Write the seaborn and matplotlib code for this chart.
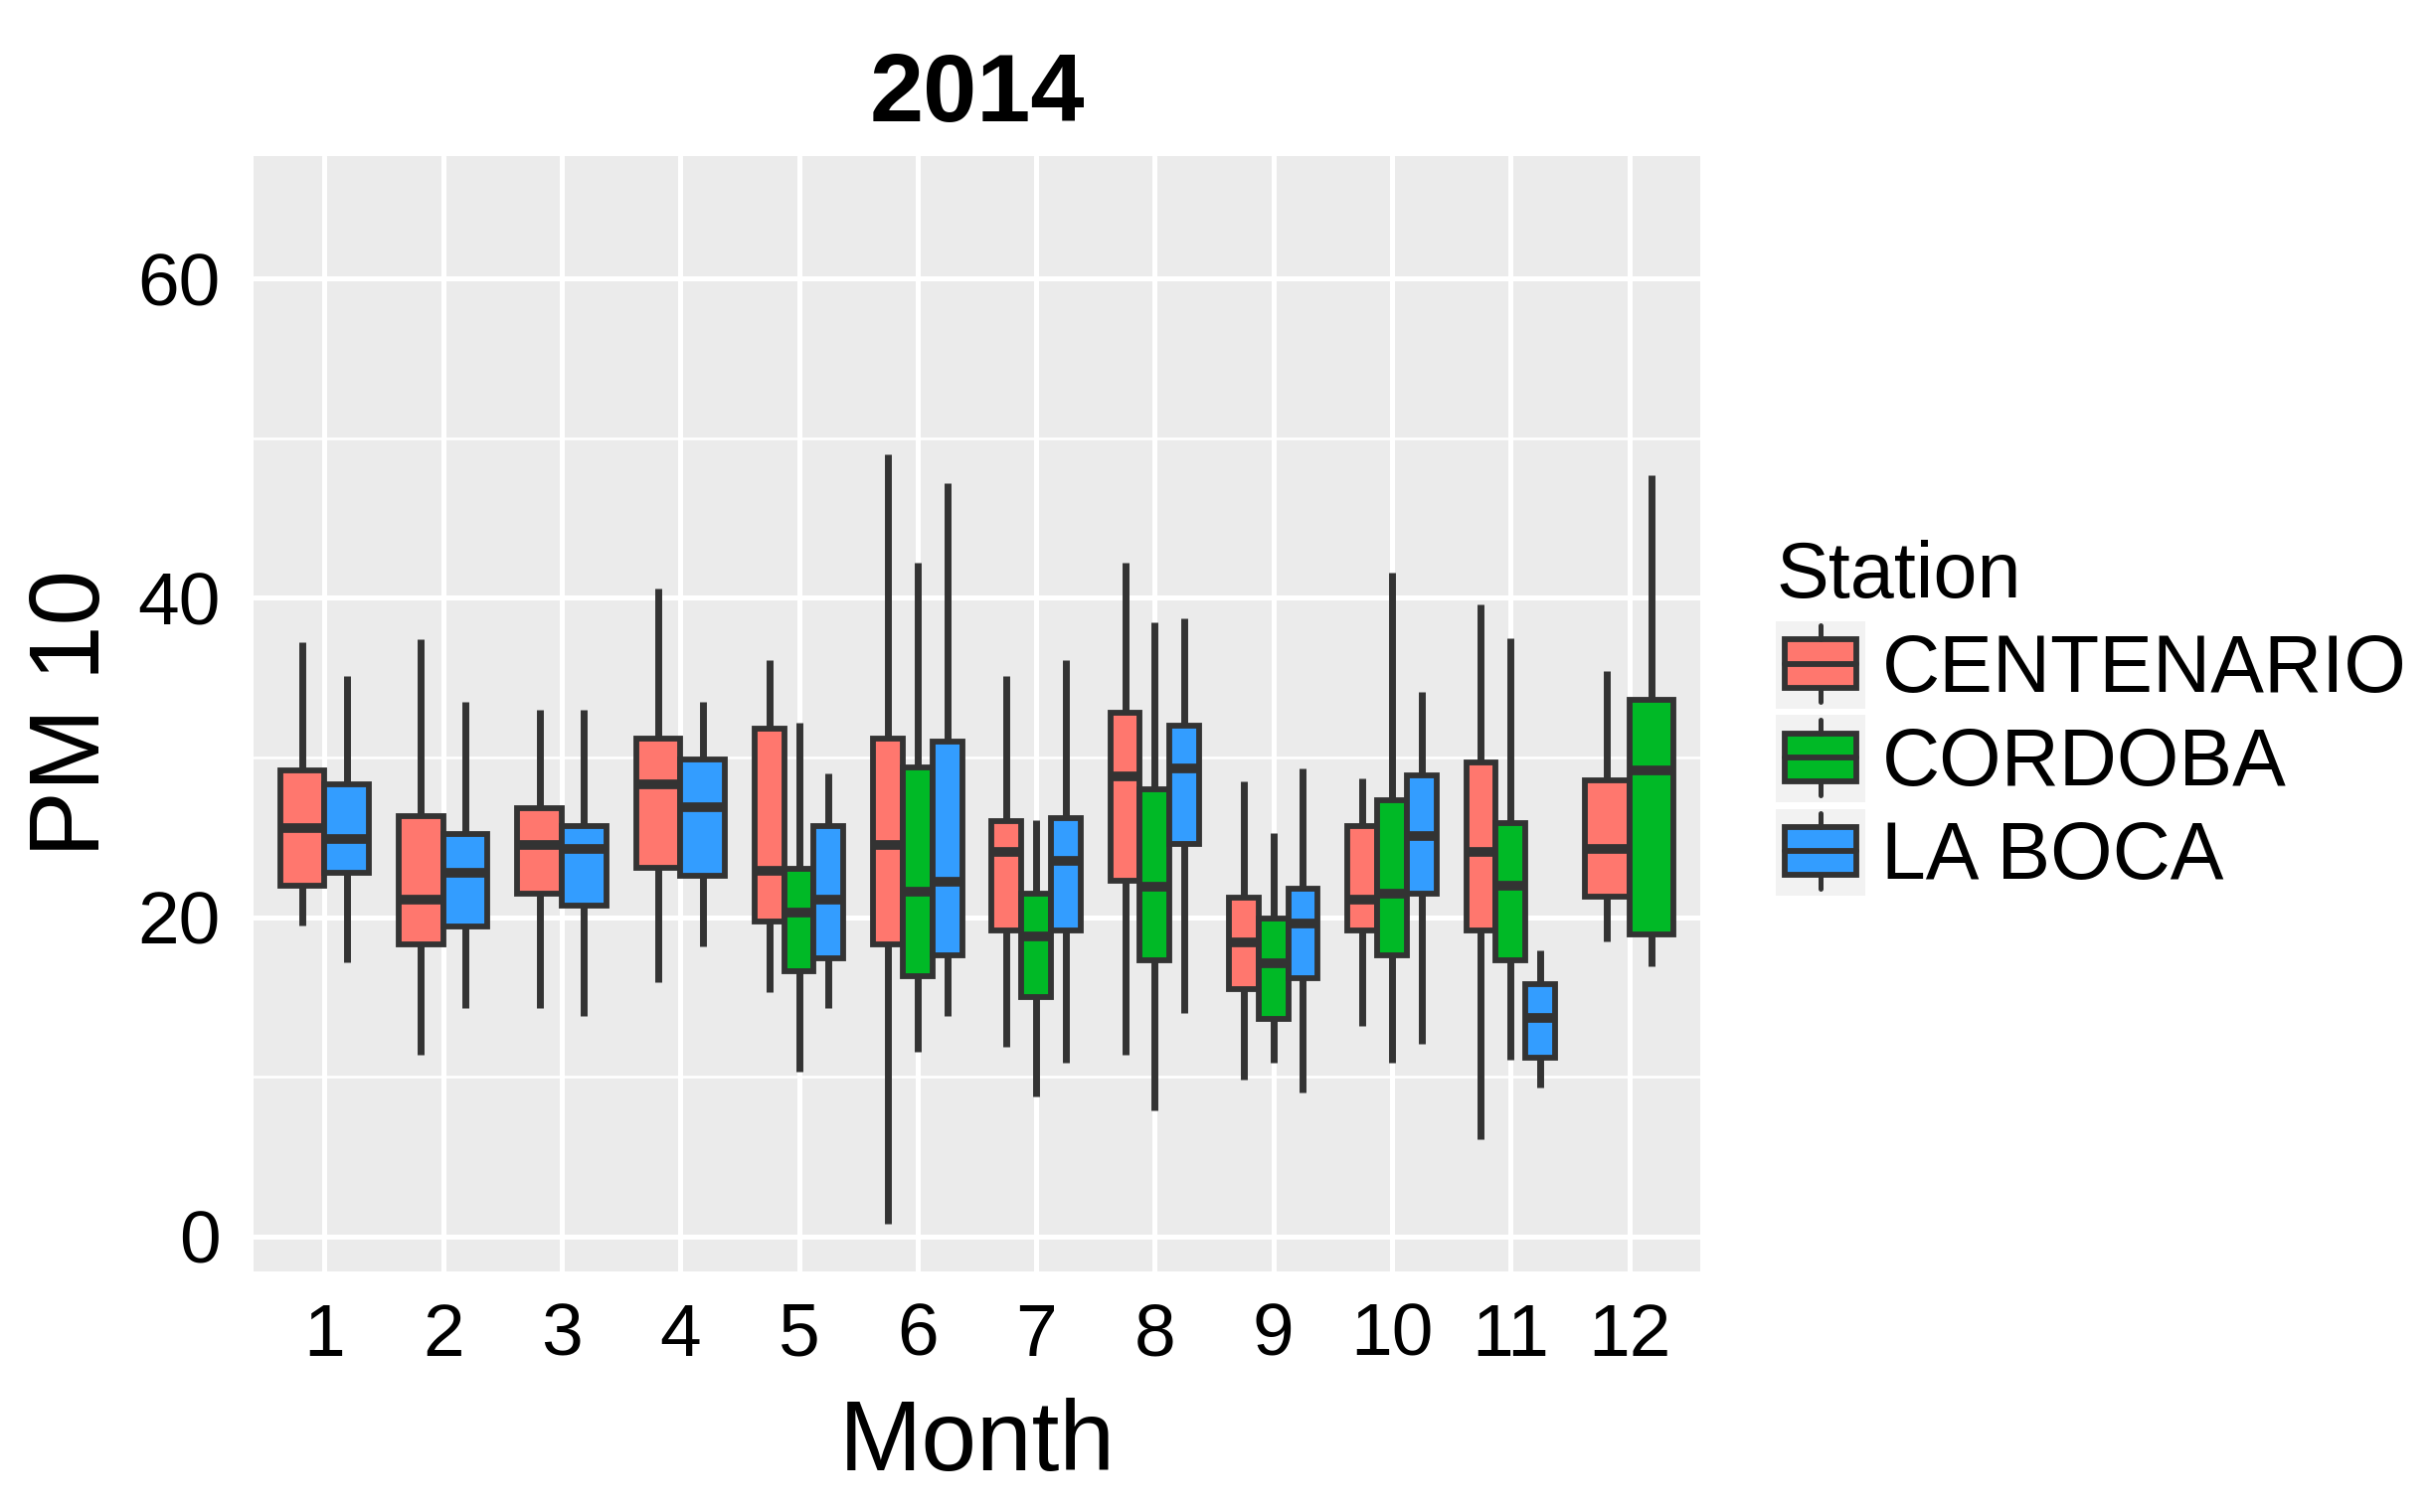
import numpy as np
import pandas as pd
import matplotlib
matplotlib.use("Agg")
import matplotlib.pyplot as plt
import seaborn as sns
from matplotlib.legend_handler import HandlerBase
from matplotlib.patches import Rectangle
from matplotlib.lines import Line2D
from matplotlib.ticker import MultipleLocator

# PM10 monthly box summaries for 2014
stations = ["CENTENARIO", "CORDOBA", "LA BOCA"]
months = [str(m) for m in range(1, 13)]

cen_months = [1, 2, 3, 4, 5, 6, 7, 8, 9, 10, 11, 12]
cen_lo = [19.5, 11.4, 14.3, 15.9, 15.3, 0.8, 11.9, 11.4, 9.8, 13.2, 6.1, 18.5]
cen_q1 = [22.0, 18.3, 21.5, 23.1, 19.7, 18.3, 19.2, 22.3, 15.5, 19.2, 19.2, 21.3]
cen_med = [25.6, 21.1, 24.5, 28.3, 22.9, 24.5, 24.1, 28.8, 18.4, 21.1, 24.1, 24.3]
cen_q3 = [29.2, 26.3, 26.8, 31.2, 31.8, 31.2, 26.0, 32.8, 21.2, 25.7, 29.7, 28.6]
cen_hi = [37.2, 37.4, 33.0, 40.6, 36.1, 49.0, 35.1, 42.2, 28.5, 28.7, 39.6, 35.4]

cor_months = [5, 6, 7, 8, 9, 10, 11, 12]
cor_lo = [10.3, 11.6, 8.8, 7.9, 10.9, 10.9, 11.1, 16.9]
cor_q1 = [16.6, 16.3, 15.0, 17.3, 13.6, 17.6, 17.3, 18.9]
cor_med = [20.3, 21.6, 18.8, 21.9, 17.1, 21.5, 22.0, 29.2]
cor_q3 = [23.0, 29.4, 21.5, 28.0, 19.9, 27.3, 25.9, 33.6]
cor_hi = [32.2, 42.2, 26.1, 38.5, 25.3, 41.6, 37.5, 47.7]

lb_months = [1, 2, 3, 4, 5, 6, 7, 8, 9, 10, 11]
lb_lo = [17.2, 14.3, 13.8, 18.2, 14.3, 13.8, 10.9, 14.0, 9.0, 12.1, 9.3]
lb_q1 = [22.8, 19.4, 20.7, 22.6, 17.4, 17.6, 19.2, 24.6, 16.2, 21.5, 11.2]
lb_med = [24.9, 22.8, 24.3, 26.9, 21.1, 22.2, 23.5, 29.3, 19.6, 25.1, 13.7]
lb_q3 = [28.3, 25.2, 25.7, 29.9, 25.7, 31.0, 26.2, 32.0, 21.8, 28.9, 15.8]
lb_hi = [35.1, 33.5, 33.0, 33.5, 29.0, 47.2, 36.1, 38.7, 29.3, 34.1, 17.9]

colors = {"CENTENARIO": "#FF776E", "CORDOBA": "#00B926", "LA BOCA": "#339DFF"}

# five values per box -> quartiles land exactly on q1/med/q3, whiskers at min/max
rows = []
for name, ms, lo, q1, med, q3, hi in [
    ("CENTENARIO", cen_months, cen_lo, cen_q1, cen_med, cen_q3, cen_hi),
    ("CORDOBA", cor_months, cor_lo, cor_q1, cor_med, cor_q3, cor_hi),
    ("LA BOCA", lb_months, lb_lo, lb_q1, lb_med, lb_q3, lb_hi),
]:
    for i, m in enumerate(ms):
        for v in (lo[i], q1[i], med[i], q3[i], hi[i]):
            rows.append({"Month": str(m), "Station": name, "PM10": v})
df = pd.DataFrame(rows)

sns.set_style("darkgrid", {"axes.facecolor": "#EBEBEB", "grid.color": "white"})
plt.rcParams['font.family'] = ['Liberation Sans', 'DejaVu Sans']
plt.rcParams['text.color'] = 'black'
plt.rcParams['axes.labelcolor'] = 'black'

fig, ax = plt.subplots(figsize=(24.5, 15.21), dpi=100)
fig.subplots_adjust(left=0.104, right=0.698, top=0.897, bottom=0.159)

# ggplot dodges only the stations present in each month
groups = [
    (["1", "2", "3", "4"], ["CENTENARIO", "LA BOCA"]),
    (["5", "6", "7", "8", "9", "10", "11"], stations),
    (["12"], ["CENTENARIO", "CORDOBA"]),
]
for ms, hue_order in groups:
    sub = df[df["Month"].isin(ms)]
    sns.boxplot(data=sub, x="Month", y="PM10", hue="Station", order=months,
                hue_order=hue_order, palette=colors, width=0.75, saturation=1,
                whis=(0, 100), linecolor="#333333", linewidth=4.2,
                showcaps=False, medianprops={"linewidth": 7},
                legend=False, ax=ax)

# thicker whiskers, like the ggplot original
for ln in ax.lines:
    if ln.get_linewidth() < 6:
        ln.set_linewidth(5)
        ln.set_solid_capstyle("butt")

ax.set_xlim(-0.6, 11.6)
ax.set_ylim(-2.2, 67.7)
ax.yaxis.set_major_locator(MultipleLocator(20))
ax.yaxis.set_minor_locator(MultipleLocator(10))
ax.xaxis.grid(True, color="white", linewidth=3.6)
ax.yaxis.grid(True, which="major", color="white", linewidth=3.6)
ax.yaxis.grid(True, which="minor", color="white", linewidth=1.8)
ax.set_axisbelow(True)
for s in ax.spines.values():
    s.set_visible(False)

ax.tick_params(axis="both", which="major", length=10, width=3, color="#333333",
               labelsize=54, labelcolor="black")
ax.tick_params(axis="x", pad=12)
ax.tick_params(axis="y", pad=14)
ax.tick_params(which="minor", length=0)

ax.set_xlabel("Month", fontsize=72, labelpad=20)
ax.set_ylabel("PM 10", fontsize=72, labelpad=12)
ax.set_title("2014", fontsize=70, fontweight="bold", pad=25)


class BoxKey(HandlerBase):
    def create_artists(self, legend, orig_handle, xd, yd, w, h, fontsize, trans):
        x0, y0 = -xd, -yd
        col = orig_handle.get_facecolor()
        bg = Rectangle((x0, y0), w, h, facecolor="#F2F2F2", edgecolor="none", transform=trans)
        box = Rectangle((x0 + 0.1 * w, y0 + 0.24 * h), 0.8 * w, 0.55 * h,
                        facecolor=col, edgecolor="#333333", linewidth=4.2, transform=trans)
        med = Line2D([x0 + 0.1 * w, x0 + 0.9 * w], [y0 + 0.515 * h] * 2,
                     color="#333333", linewidth=4.2, transform=trans)
        w1 = Line2D([x0 + 0.5 * w] * 2, [y0 + 0.79 * h, y0 + 0.95 * h],
                    color="#333333", linewidth=3.6, transform=trans)
        w2 = Line2D([x0 + 0.5 * w] * 2, [y0 + 0.08 * h, y0 + 0.24 * h],
                    color="#333333", linewidth=3.6, transform=trans)
        return [bg, box, med, w1, w2]


handles = [Rectangle((0, 0), 1, 1, facecolor=colors[s]) for s in stations]
leg = fig.legend(handles, stations, loc="center left", bbox_to_anchor=(0.729, 0.525),
                 frameon=False, fontsize=58, title="Station", title_fontsize=57,
                 handler_map={Rectangle: BoxKey()}, handlelength=1.12,
                 handleheight=1.3, labelspacing=0.08, handletextpad=0.2,
                 borderpad=0, borderaxespad=0, alignment="left")

fig.savefig("out.png", dpi=100)
